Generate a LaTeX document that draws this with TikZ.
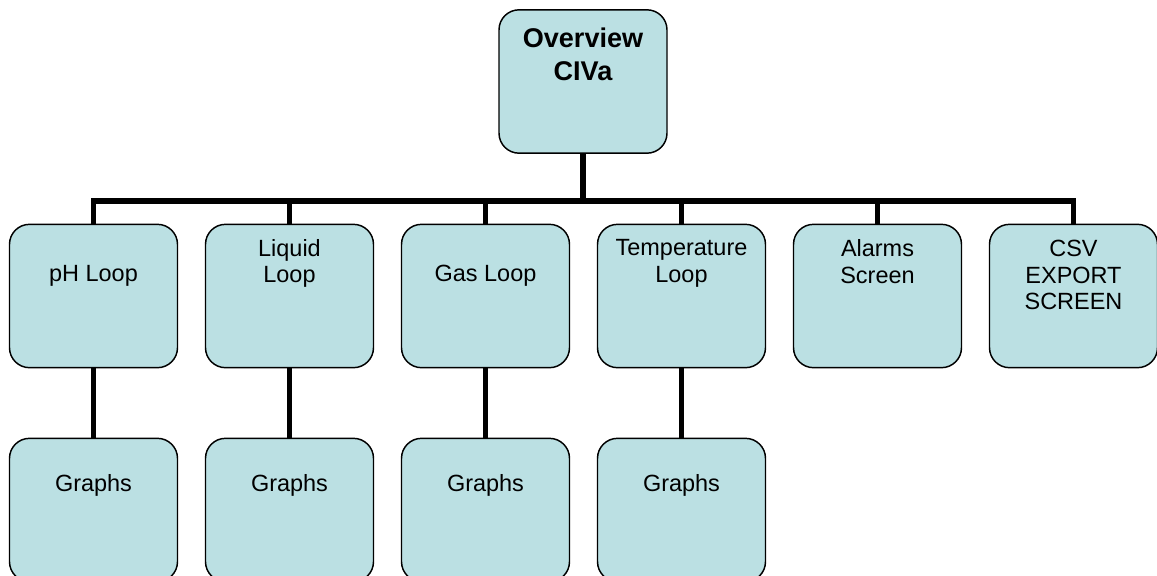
\documentclass[tikz,border=0pt]{standalone}
\usepackage{fontspec}
\setmainfont{Liberation Sans}
\definecolor{boxfill}{RGB}{187,224,227}
\tikzset{
  box/.style={draw=black, line width=1.1pt, fill=boxfill, rounded corners=15pt,
    minimum width=126pt, minimum height=107.5pt, inner sep=0pt},
  lbl/.style={align=center, inner sep=0pt, font=\fontsize{17.6}{20}\selectfont},
  conn/.style={line width=3.8pt},
}
\begin{document}
\begin{tikzpicture}[x=0.75pt, y=-0.75pt]
    % 1. Khung ảnh
    \useasboundingbox (0,0) rectangle (1157,575);

    % 2. Ô gốc
    \node[box] (top) at (583,81.5) {};
    \node[lbl, font=\bfseries\fontsize{20.3}{24.7}\selectfont] (top-t) at (583,54) {Overview\\CIVa};

    % 3. Hàng trên
    \foreach \n/\x/\ty/\t in {ph/93.5/276/{pH Loop}, liq/289.5/263.5/{Liquid\\Loop},
        gas/485.5/276/{Gas Loop}, temp/681.5/263.5/{Temperature\\Loop},
        alarm/877.5/261.5/{Alarms\\Screen}, csv/1073.5/275/{CSV\\EXPORT\\SCREEN}} {
        \node[box] (\n) at (\x,296) {};
        \node[lbl] (\n-t) at (\x,\ty) {\t};
    }

    % 4. Hàng dưới
    \foreach \n/\x in {ph/93.5, liq/289.5, gas/485.5, temp/681.5} {
        \node[box] (\n-g) at (\x,510) {};
        \node[lbl] (\n-gt) at (\x,485) {Graphs};
    }

    % 5. Đường nối
    \coordinate (bus) at (0,201);
    \draw[conn] (top.south) -- (top.south |- bus);
    \draw[conn] (ph.north) -- (ph.north |- bus) -- (csv.north |- bus) -- (csv.north);
    \foreach \n in {liq,gas,temp,alarm}
        \draw[conn] (\n.north) -- (\n.north |- bus);
    \foreach \n in {ph,liq,gas,temp}
        \draw[conn] (\n.south) -- (\n-g.north);
\end{tikzpicture}
\end{document}
